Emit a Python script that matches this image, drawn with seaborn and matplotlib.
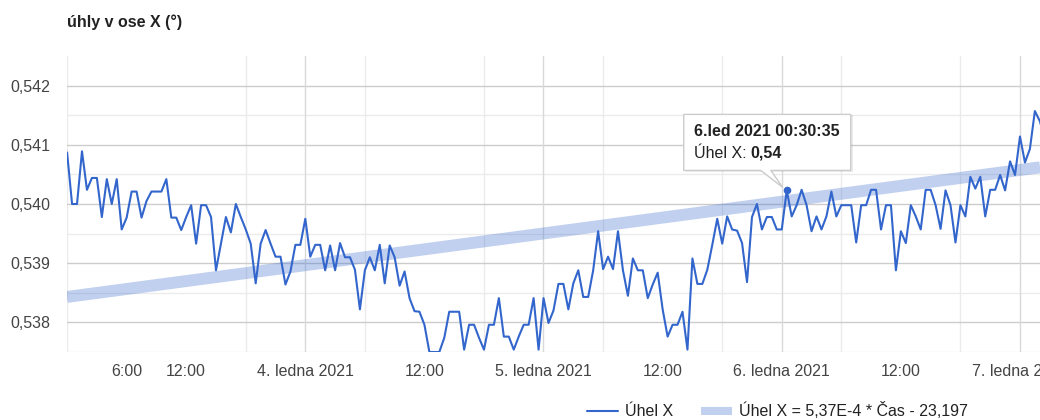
import numpy as np
import pandas as pd
import matplotlib
matplotlib.use("Agg")
import matplotlib.pyplot as plt
import matplotlib.dates as mdates
import matplotlib.ticker as mticker
from matplotlib.lines import Line2D
from matplotlib.patches import Polygon
from matplotlib.transforms import IdentityTransform
import seaborn as sns

# ---------------- data ----------------
title = "úhly v ose X (°)"
series_label = "Úhel X"
trend_label = "Úhel X = 5,37E-4 * Čas - 23,197"

start_time = "2021-01-03 00:00:35"
step_minutes = 30
uhel_x = [
    0.54087, 0.54000, 0.54000, 0.54089, 0.54024, 0.54044, 0.54044, 0.53978, 0.54042, 0.54000,
    0.54042, 0.53957, 0.53977, 0.54021, 0.54021, 0.53977, 0.54005, 0.54021, 0.54021, 0.54021,
    0.54042, 0.53977, 0.53977, 0.53956, 0.53978, 0.53998, 0.53933, 0.53998, 0.53998, 0.53978,
    0.53888, 0.53933, 0.53978, 0.53952, 0.54000, 0.53978, 0.53957, 0.53933, 0.53866, 0.53933,
    0.53956, 0.53933, 0.53911, 0.53911, 0.53864, 0.53886, 0.53931, 0.53931, 0.53975, 0.53911,
    0.53931, 0.53931, 0.53888, 0.53930, 0.53888, 0.53934, 0.53910, 0.53910, 0.53889, 0.53822,
    0.53888, 0.53910, 0.53888, 0.53931, 0.53866, 0.53930, 0.53910, 0.53862, 0.53886, 0.53841,
    0.53819, 0.53818, 0.53796, 0.53750, 0.53750, 0.53750, 0.53774, 0.53818, 0.53818, 0.53818,
    0.53754, 0.53796, 0.53796, 0.53774, 0.53754, 0.53796, 0.53796, 0.53841, 0.53776, 0.53776,
    0.53754, 0.53776, 0.53796, 0.53796, 0.53841, 0.53754, 0.53841, 0.53799, 0.53820, 0.53865,
    0.53865, 0.53822, 0.53866, 0.53888, 0.53843, 0.53843, 0.53888, 0.53954, 0.53890, 0.53911,
    0.53890, 0.53954, 0.53888, 0.53845, 0.53908, 0.53888, 0.53888, 0.53841, 0.53864, 0.53884,
    0.53822, 0.53776, 0.53796, 0.53796, 0.53818, 0.53754, 0.53908, 0.53865, 0.53865, 0.53889,
    0.53931, 0.53975, 0.53933, 0.53979, 0.53957, 0.53955, 0.53934, 0.53868, 0.53978, 0.54000,
    0.53957, 0.53978, 0.53978, 0.53957, 0.53957, 0.54023, 0.53979, 0.53998, 0.54024, 0.53998,
    0.53954, 0.53979, 0.53957, 0.53979, 0.54021, 0.53979, 0.53998, 0.53998, 0.53998, 0.53935,
    0.53998, 0.53998, 0.54024, 0.54024, 0.53957, 0.53998, 0.53998, 0.53888, 0.53954, 0.53934,
    0.53998, 0.53979, 0.53957, 0.54024, 0.54024, 0.53998, 0.53958, 0.54023, 0.53998, 0.53935,
    0.53998, 0.53979, 0.54046, 0.54026, 0.54046, 0.53979, 0.54024, 0.54024, 0.54049, 0.54023,
    0.54072, 0.54049, 0.54114, 0.54070, 0.54093, 0.54157, 0.54140, 0.54110,
]
highlight_index = 145

trend_times = ["2021-01-03 00:00:00", "2021-01-07 02:02:00"]
trend_values = [0.53843, 0.54062]

y_ticks = [0.538, 0.539, 0.540, 0.541, 0.542]
y_tick_labels = ["0,538", "0,539", "0,540", "0,541", "0,542"]
y_minor = [0.5375, 0.5385, 0.5395, 0.5405, 0.5415]
x_tick_times = ["2021-01-03 06:00", "2021-01-03 12:00", "2021-01-04 00:00", "2021-01-04 12:00",
                "2021-01-05 00:00", "2021-01-05 12:00", "2021-01-06 00:00", "2021-01-06 12:00",
                "2021-01-07 00:00"]
x_tick_labels = ["6:00", "12:00", "4. ledna 2021", "12:00", "5. ledna 2021", "12:00",
                 "6. ledna 2021", "12:00", "7. ledna 2021"]
day_lines = ["2021-01-04", "2021-01-05", "2021-01-06", "2021-01-07"]
month_abbr = ["led", "úno", "bře", "dub", "kvě", "čvn", "čvc", "srp", "zář", "říj", "lis", "pro"]

x_range = ["2021-01-03 00:00:00", "2021-01-07 02:01:35"]
y_range = [0.5375, 0.5425]

# ---------------- style ----------------
BLUE = "#3366cc"
FS = 11.5
sns.set_theme(style="white")
plt.rcParams["font.family"] = ["Liberation Sans", "DejaVu Sans"]

W, H = 1040, 420
fig = plt.figure(figsize=(W / 100, H / 100), dpi=100)
ax = fig.add_axes([67 / W, 68 / H, 973 / W, 296 / H])

times = pd.date_range(start_time, periods=len(uhel_x), freq=f"{step_minutes}min")
df = pd.DataFrame({"cas": times, "uhel": uhel_x})
trend_df = pd.DataFrame({"cas": pd.to_datetime(trend_times), "uhel": trend_values})

sns.lineplot(data=trend_df, x="cas", y="uhel", ax=ax, color=BLUE, alpha=0.3, lw=8.6,
             solid_capstyle="butt", zorder=2, legend=False)
sns.lineplot(data=df, x="cas", y="uhel", ax=ax, color=BLUE, lw=1.5, zorder=3,
             solid_joinstyle="round", legend=False)

ax.set_xlim(mdates.date2num(pd.Timestamp(x_range[0])), mdates.date2num(pd.Timestamp(x_range[1])))
ax.set_ylim(*y_range)

# ticks
ax.set_yticks(y_ticks)
ax.set_yticklabels(y_tick_labels)
ax.yaxis.set_minor_locator(mticker.FixedLocator(y_minor))
ax.set_xticks([mdates.date2num(pd.Timestamp(t)) for t in x_tick_times])
ax.set_xticklabels(x_tick_labels)
ax.xaxis.set_minor_locator(mdates.HourLocator(byhour=[0, 6, 12, 18]))
ax.tick_params(axis="both", which="both", length=0, labelsize=FS, labelcolor="#444444")
ax.tick_params(axis="y", pad=12)
ax.tick_params(axis="x", pad=9)
ax.set_xlabel("")
ax.set_ylabel("")

ax.grid(False)
ax.grid(which="major", axis="y", color="#cccccc", lw=1, zorder=0)
ax.grid(which="minor", axis="y", color="#ebebeb", lw=1, zorder=0)
ax.grid(which="minor", axis="x", color="#ebebeb", lw=1, zorder=0)
for d in day_lines:
    ax.axvline(mdates.date2num(pd.Timestamp(d)), color="#d9d9d9", lw=1, zorder=1)
ax.set_axisbelow(True)
for s in ax.spines.values():
    s.set_visible(False)

# highlighted point
ht = times[highlight_index]
hv = uhel_x[highlight_index]
ax.scatter([mdates.date2num(ht)], [hv], s=30, color=BLUE, zorder=5, linewidths=0)

# title
fig.text(67 / W, (H - 22) / H, title, fontweight="bold", fontsize=FS, color="#222222",
         ha="left", va="center")

# legend
handles = [Line2D([], [], color=BLUE, lw=1.5),
           Line2D([], [], color=BLUE, alpha=0.3, lw=5.8, solid_capstyle="butt")]
fig.legend(handles=handles, labels=[series_label, trend_label], loc="center",
           bbox_to_anchor=(777.5 / W, 9 / H), ncol=2, frameon=False, fontsize=FS,
           handlelength=1.95, handletextpad=0.45, columnspacing=1.7, labelcolor="#222222")

# tooltip
fig.canvas.draw()
px, py = ax.transData.transform((mdates.date2num(ht), hv))
L, R, B, T = px - 103, px + 64, py + 20, py + 76
idt = IdentityTransform()
shadow = Polygon([(L + 1, B - 2), (R + 2, B - 2), (R + 2, T - 1), (L + 1, T - 1)], closed=True,
                 transform=idt, facecolor="#000000", alpha=0.08, edgecolor="none", zorder=9)
box = Polygon([(L, B), (px - 26, B), (px - 4, py + 3), (px - 16, B), (R, B), (R, T), (L, T)],
              closed=True, transform=idt, facecolor="white", edgecolor="#cccccc", lw=1, zorder=10)
fig.add_artist(shadow)
fig.add_artist(box)
time_text = f"{ht.day}.{month_abbr[ht.month - 1]} {ht.year} {ht:%H:%M:%S}"
fig.text(L + 10, py + 59, time_text, transform=idt, fontweight="bold", fontsize=FS,
         color="#222222", ha="left", va="center", zorder=11)
t1 = fig.text(L + 10, py + 37, f"{series_label}: ", transform=idt, fontsize=FS,
              color="#222222", ha="left", va="center", zorder=11)
fig.canvas.draw()
bb = t1.get_window_extent()
fig.text(bb.x1, py + 37, f"{hv:.2f}".replace(".", ","), transform=idt, fontweight="bold",
         fontsize=FS, color="#222222", ha="left", va="center", zorder=11)

fig.savefig("out.png", dpi=100)
